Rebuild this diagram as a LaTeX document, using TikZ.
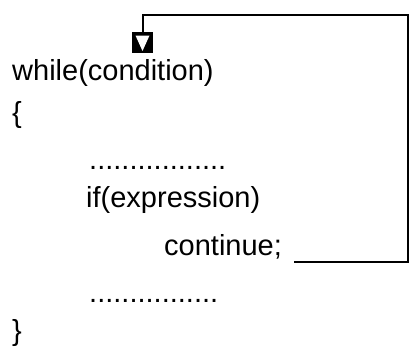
\documentclass[tikz,border=0pt]{standalone}
\usepackage{fontspec}
\setmainfont{Liberation Sans}
\begin{document}
\begin{tikzpicture}[x=1pt,y=-1pt,
  code/.style={anchor=base west, inner sep=0pt, font=\fontsize{29}{34}\selectfont},
  flow/.style={line width=2pt, line cap=rect}]
\useasboundingbox (0,0) rectangle (414,349);

% code lines
\node[code] (while) at (12,80)  {while(condition)};
\node[code] (open)  at (12,122) {\{};
\node[code] (dots1) at (89,169) {.................};
\node[code] (if)    at (86,207) {if(expression)};
\node[code] (cont)  at (164,255) {continue;};
\node[code] (dots2) at (89,302) {................};
\node[code] (close) at (12,340) {\}};

% arrow head: black square holding a white triangle
\node[fill=black, minimum size=21pt, inner sep=0pt,
  path picture={\fill[white] ([xshift=3.5pt,yshift=-3.5pt]path picture bounding box.north west)
     -- ([xshift=-3.5pt,yshift=-3.5pt]path picture bounding box.north east)
     -- ([yshift=2pt]path picture bounding box.south) -- cycle;}]
  (head) at (142.5,42.5) {};

% jump connector from continue back to the loop test
\coordinate (start) at (295,262);
\coordinate (corner) at (408,15);
\draw[flow] (start) -| (corner) -| (head.north);
\end{tikzpicture}
\end{document}
